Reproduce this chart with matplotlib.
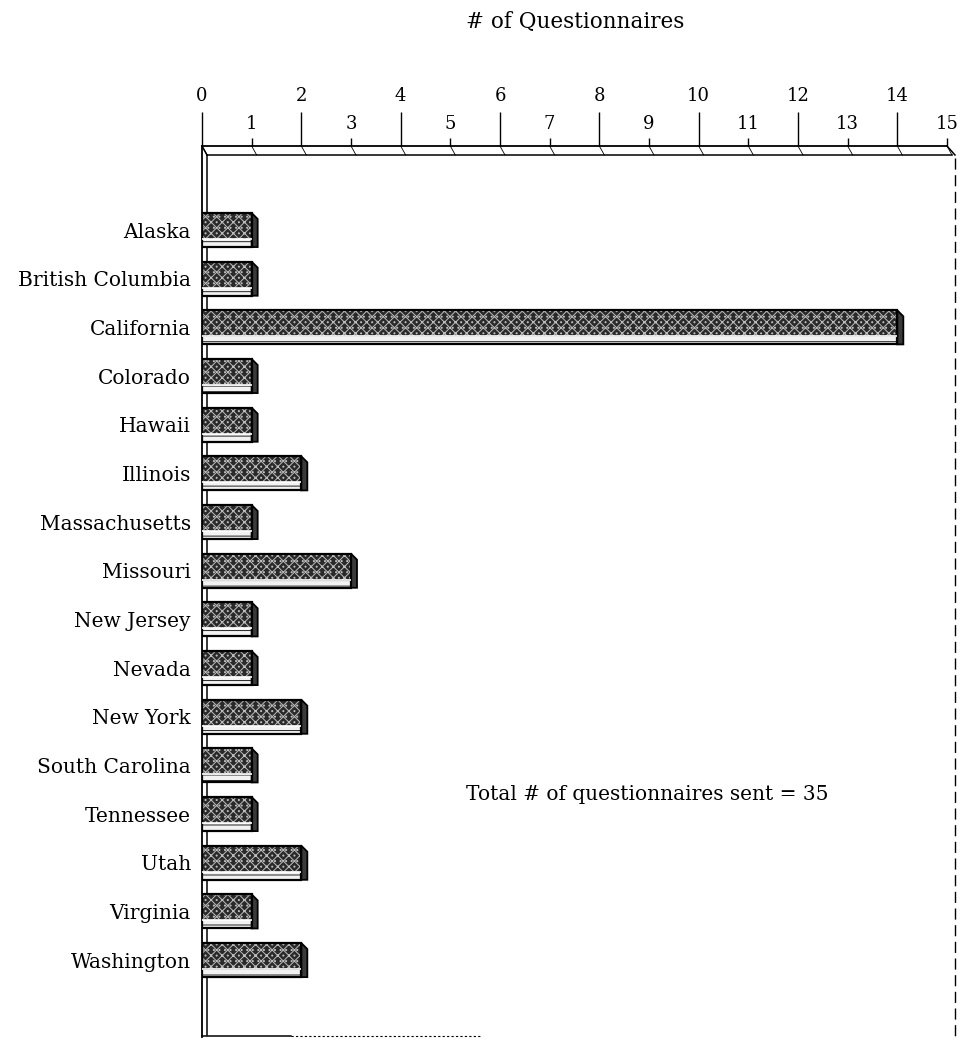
import matplotlib
matplotlib.use("Agg")
import matplotlib.pyplot as plt
import numpy as np
from matplotlib.patches import Polygon

# Questionnaires sent, by state / province
states = ["Alaska", "British Columbia", "California", "Colorado", "Hawaii",
          "Illinois", "Massachusetts", "Missouri", "New Jersey", "Nevada",
          "New York", "South Carolina", "Tennessee", "Utah", "Virginia",
          "Washington"]
counts = [1, 1, 14, 1, 1, 2, 1, 3, 1, 1, 2, 1, 1, 2, 1, 2]
even_ticks = [0, 2, 4, 6, 8, 10, 12, 14]
odd_ticks = [1, 3, 5, 7, 9, 11, 13, 15]
title = "# of Questionnaires"
total_note = "Total # of questionnaires sent = 35"

plt.rcParams["font.family"] = ["DejaVu Serif"]
plt.rcParams["hatch.linewidth"] = 0.7

fig = plt.figure(figsize=(9.64, 10.40), dpi=100)
ax = fig.add_axes([202 / 964, 3 / 1040, 745 / 964, 891 / 1040])
ax.set_xlim(0, 15)
y_top, y_bot = -1.726, 16.58
ax.set_ylim(y_bot, y_top)

# pixel -> data conversion for the pseudo-3D depth offsets
px_x = 15 / ax.bbox.width
px_y = (y_bot - y_top) / ax.bbox.height

y = np.arange(len(states))
h = 0.70
strip = 8 * px_y
vals = np.array(counts, dtype=float)

# front face (dark, speckled)
ax.barh(y - strip / 2, vals, height=h - strip, color="#2a2a2a",
        edgecolor="#bdbdbd", hatch="xxx...", linewidth=0, zorder=3)
# lower bevel strip
ax.barh(y + h / 2 - strip / 2, vals, height=strip, color="#f2f2f2",
        edgecolor="#222222", hatch="---", linewidth=0, zorder=3)
# right end face
dx, dy = 6 * px_x, 6 * px_y
for v, yc in zip(vals, y):
    poly = Polygon([(v, yc - h / 2), (v + dx, yc - h / 2 + dy),
                    (v + dx, yc + h / 2), (v, yc + h / 2)],
                   closed=True, facecolor="#3a3a3a", edgecolor="black",
                   linewidth=1.3, zorder=4)
    ax.add_patch(poly)
# outlines
ax.barh(y, vals, height=h, fill=False, edgecolor="black", linewidth=1.6,
        zorder=5)
ax.barh(y + h / 2 - strip, vals, height=0, fill=False, edgecolor="white",
        linewidth=1.2, zorder=5)

# frame: back wall / floor edges
line_kw = dict(color="black", linewidth=1.1, clip_on=False, zorder=2)
ox, oy = 5 * px_x, 9 * px_y
ax.plot([ox, 15 + ox], [y_top + oy, y_top + oy], **line_kw)
ax.plot([ox, ox], [y_top + oy, y_bot - 2 * px_y], **line_kw)
ax.plot([0, ox], [y_top, y_top + oy], **line_kw)
for t in even_ticks + odd_ticks:
    ax.plot([t, t + ox], [y_top, y_top + oy], color="black", linewidth=0.6,
            clip_on=False, zorder=2)
ax.plot([15, 15 + ox + 3 * px_x], [y_top, y_top + oy], **line_kw)
ax.plot([15 + ox + 3 * px_x] * 2, [y_top + oy + 3 * px_y, y_bot],
        color="black", linewidth=1.0, linestyle=(0, (8, 4)), clip_on=False)
ax.plot([0, 1.8], [y_bot - 1 * px_y] * 2, **line_kw)
ax.plot([1.8, 5.6], [y_bot - 1 * px_y] * 2, color="black", linewidth=0.8,
        linestyle=(0, (2, 2)), clip_on=False)

for side in ("right", "bottom"):
    ax.spines[side].set_visible(False)
for side in ("left", "top"):
    ax.spines[side].set_linewidth(1.3)

# top axis with staggered tick labels
ax.xaxis.tick_top()
ax.set_xticks(even_ticks)
ax.set_xticklabels([str(t) for t in even_ticks])
ax.set_xticks(odd_ticks, minor=True)
ax.set_xticklabels([str(t) for t in odd_ticks], minor=True)
ax.tick_params(axis="x", which="major", direction="out", length=24.5,
               width=1.0, pad=5, labelsize=13)
ax.tick_params(axis="x", which="minor", direction="out", length=5.8,
               width=1.0, pad=3.6, labelsize=13)

ax.set_yticks(y)
ax.set_yticklabels(states)
ax.tick_params(axis="y", length=0, pad=8, labelsize=14.5)

ax.text(5.32, 11.6, total_note, ha="left", va="center", fontsize=14.5)
fig.text(575 / 964, 1 - 22 / 1040, title, ha="center", va="center",
         fontsize=15.5)

fig.savefig("out.png", dpi=100, facecolor="white")
